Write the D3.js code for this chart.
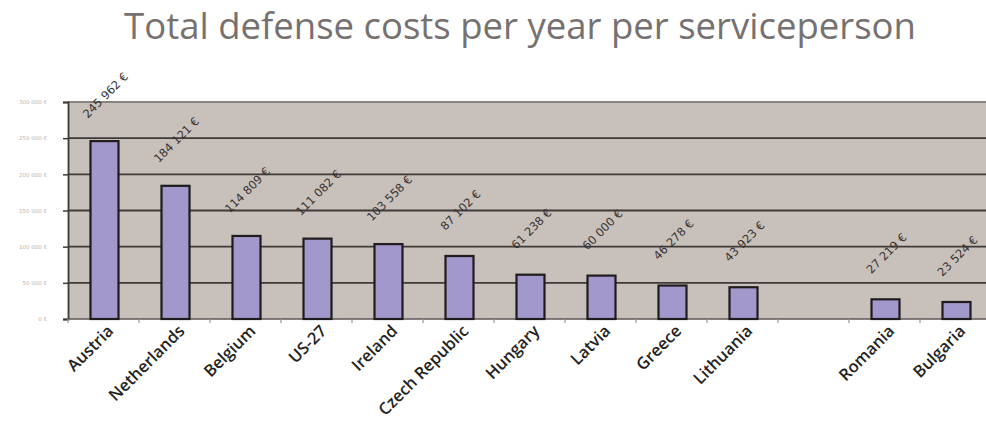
<!DOCTYPE html>
<html><head><meta charset="utf-8">
<script src="https://cdn.jsdelivr.net/npm/d3@7"></script>
<style>body{margin:0;background:#fff;} svg{display:block;}</style>
</head><body>
<svg id="chart" width="986" height="421"></svg>
<script>
const title = "Total defense costs per year per serviceperson";
const categories = ["Austria","Netherlands","Belgium","US-27","Ireland","Czech Republic","Hungary","Latvia","Greece","Lithuania","","Romania","Bulgaria"];
const values = [245962,184121,114809,111082,103558,87102,61238,60000,46278,43923,null,27219,23524];
const valueLabels = ["245 962 €","184 121 €","114 809 €","111 082 €","103 558 €","87 102 €","61 238 €","60 000 €","46 278 €","43 923 €","","27 219 €","23 524 €"];
const yTicks = [0,50000,100000,150000,200000,250000,300000];
const yTickLabels = ["0 €","50 000 €","100 000 €","150 000 €","200 000 €","250 000 €","300 000 €"];

const svg = d3.select("#chart");
const m = {left:68, top:102, right:986, bottom:319};
const x = d3.scaleBand().domain(categories.map((c,i)=>i)).range([m.left, m.left+13*71]).padding(0);
const y = d3.scaleLinear().domain([0,300000]).range([m.bottom, m.top]);

svg.append("text").attr("x",520).attr("y",39).attr("text-anchor","middle")
  .attr("font-family","Open Sans").attr("font-size",36.5).attr("fill","#767170").text(title);

svg.append("rect").attr("x",m.left).attr("y",m.top).attr("width",m.right-m.left).attr("height",m.bottom-m.top).attr("fill","#c8c0bb");

// gridlines
svg.append("g").selectAll("line").data(yTicks.slice(1)).join("line")
  .attr("x1",m.left).attr("x2",m.right).attr("y1",d=>y(d)).attr("y2",d=>y(d))
  .attr("stroke",(d)=>d===300000?"#8a8480":"#3e3a38").attr("stroke-width",1.9);

// y axis
const yAxis = d3.axisLeft(y).tickValues(yTicks).tickFormat((d,i)=>yTickLabels[i]).tickSize(5).tickPadding(16);
const ya = svg.append("g").attr("transform",`translate(${m.left},0)`).call(yAxis);
ya.select(".domain").attr("stroke","#3e3a38").attr("stroke-width",1.8);
ya.selectAll(".tick line").attr("stroke","#3e3a38").attr("stroke-width",1.5);
ya.selectAll(".tick text").attr("font-family","DejaVu Sans").attr("font-size",5.5).attr("fill","#b8b4b2");

// x axis
const xa = svg.append("g").attr("transform",`translate(0,${m.bottom})`);
xa.append("line").attr("x1",m.left).attr("x2",m.right).attr("stroke","#5a5654").attr("stroke-width",1.5);
xa.selectAll(".tk").data(d3.range(14)).join("line").attr("class","tk")
  .attr("x1",i=>m.left+i*x.step()).attr("x2",i=>m.left+i*x.step()).attr("y1",0).attr("y2",4)
  .attr("stroke","#9a9694").attr("stroke-width",1.2);

// bars
const bw = 28;
const data = categories.map((c,i)=>({c,i,v:values[i],l:valueLabels[i]})).filter(d=>d.v!=null);
svg.append("g").selectAll("rect").data(data).join("rect")
  .attr("x",d=>x(d.i)+x.bandwidth()/2-bw/2+1).attr("width",bw)
  .attr("y",d=>y(d.v)).attr("height",d=>y(0)-y(d.v))
  .attr("fill","#a398cb").attr("stroke","#1e1c1c").attr("stroke-width",2.2);

// value labels
svg.append("g").selectAll("text").data(data).join("text")
  .attr("transform",d=>`translate(${x(d.i)+x.bandwidth()/2+2},${y(d.v)-46}) rotate(-45)`)
  .attr("text-anchor","middle").attr("dy","0.35em")
  .attr("font-family","DejaVu Sans").attr("font-size",11.5).attr("fill","#363230").text(d=>d.l);

// category labels
svg.append("g").selectAll("text").data(categories.map((c,i)=>({c,i})).filter(d=>d.c)).join("text")
  .attr("transform",d=>`translate(${x(d.i)+x.bandwidth()/2+7},${m.bottom+9}) rotate(-45)`)
  .attr("text-anchor","end").attr("dy","0.35em")
  .attr("font-family","Open Sans").attr("font-weight",600).attr("font-size",16.5).attr("fill","#242220").text(d=>d.c);
</script>
</body></html>
